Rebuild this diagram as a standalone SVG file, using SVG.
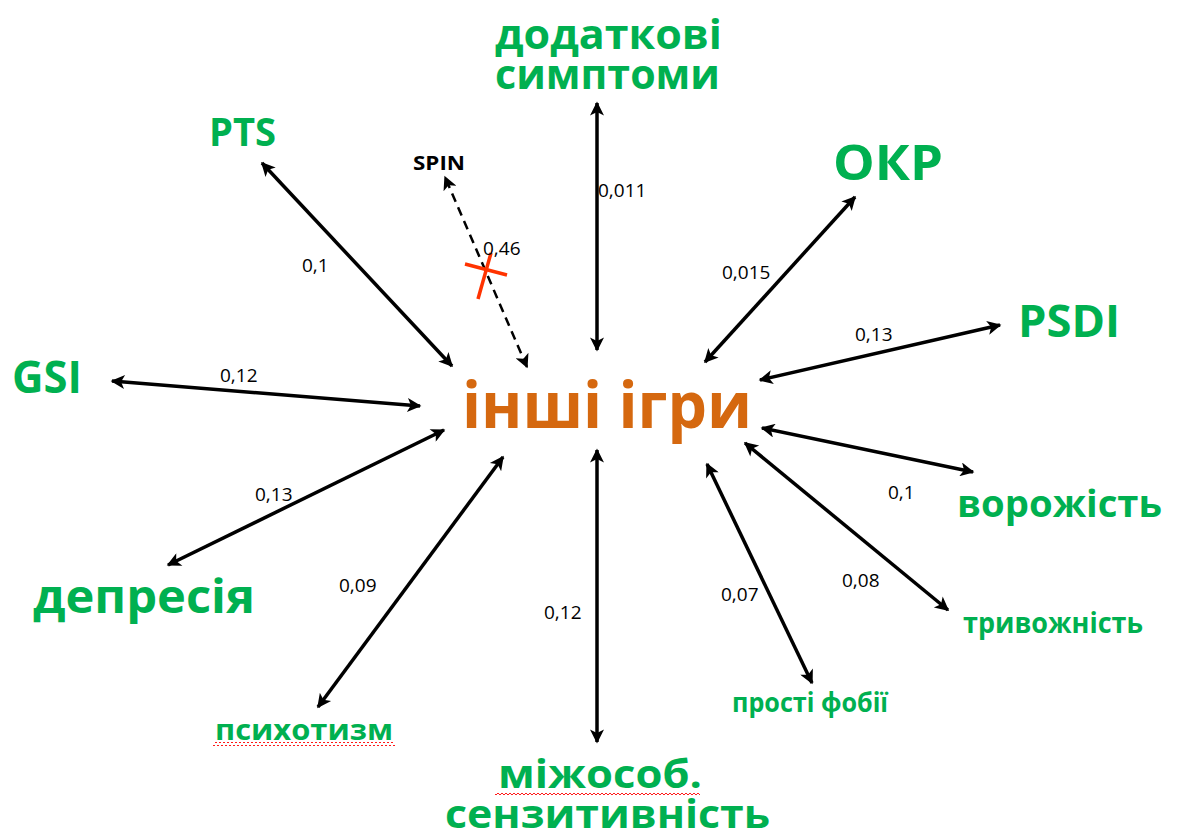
<svg xmlns="http://www.w3.org/2000/svg" width="1179" height="836" viewBox="0 0 1179 836">
<style>
.lbl{font-family:"Open Sans","Noto Sans","DejaVu Sans",sans-serif;font-weight:700;fill:#00B050}
.num{font-family:"Open Sans","Noto Sans","DejaVu Sans",sans-serif;font-size:19px;fill:#000}
.ar{stroke:#000;stroke-width:3.5;fill:none;marker-start:url(#ah);marker-end:url(#ah)}
.ard{stroke:#000;stroke-width:2.5;fill:none;stroke-dasharray:9 6;marker-start:url(#ah);marker-end:url(#ah)}
</style>
<defs>
<marker id="ah" viewBox="0 0 10 10" refX="9" refY="5" markerUnits="userSpaceOnUse" markerWidth="18" markerHeight="14" orient="auto-start-reverse">
<path d="M0,0 L10,5 L0,10 L2.5,5 z" fill="#000"/>
</marker>
<pattern id="wave" x="0" y="0" width="4" height="4" patternUnits="userSpaceOnUse">
<polyline points="0,3 2,1 4,3" fill="none" stroke="#FF0000" stroke-width="0.9"/>
</pattern>
</defs>
<rect width="1179" height="836" fill="#fff"/>

<g id="connectors">
<path class="ar" d="M597,350 L597,103"/>
<path class="ar" d="M452,366 L262,163"/>
<path class="ard" d="M527,367 L445,177"/>
<path class="ar" d="M705,362 L855,197"/>
<path class="ar" d="M760,380 L1000,325"/>
<path class="ar" d="M420,406 L112,381"/>
<path class="ar" d="M444,430 L168,565"/>
<path class="ar" d="M503,457 L318,707"/>
<path class="ar" d="M597,450 L597,742"/>
<path class="ar" d="M707,464 L812,683"/>
<path class="ar" d="M745,443 L948,610"/>
<path class="ar" d="M762,428 L973,472"/>
<g id="cross" stroke="#FF3300" stroke-width="3.5">
<line x1="465" y1="264" x2="507" y2="275"/>
<line x1="491" y1="253" x2="478" y2="299"/>
</g>
<g id="weights">
<text class="num" x="598" y="197">0,011</text>
<text class="num" x="302" y="272">0,1</text>
<text class="num" x="483" y="255">0,46</text>
<text class="num" x="722" y="279">0,015</text>
<text class="num" x="855" y="341">0,13</text>
<text class="num" x="220" y="382">0,12</text>
<text class="num" x="255" y="501">0,13</text>
<text class="num" x="888" y="499">0,1</text>
<text class="num" x="339" y="592">0,09</text>
<text class="num" x="544" y="619">0,12</text>
<text class="num" x="721" y="601">0,07</text>
<text class="num" x="842" y="587">0,08</text>
</g>
</g>

<g id="center">
<text x="462" y="428" font-family="'Open Sans','Noto Sans',sans-serif" font-weight="700" font-size="65" fill="#D5680F" textLength="290" lengthAdjust="spacingAndGlyphs">інші ігри</text>
</g>
<g id="dodatkovi">
<text class="lbl" x="495" y="49" font-size="41" textLength="227" lengthAdjust="spacingAndGlyphs">додаткові</text>
<text class="lbl" x="495" y="89" font-size="41" textLength="225" lengthAdjust="spacingAndGlyphs">симптоми</text>
</g>
<g id="pts"><text class="lbl" x="209" y="146" font-size="40" textLength="67" lengthAdjust="spacingAndGlyphs">PTS</text></g>
<g id="spin"><text x="413" y="170" font-family="'Open Sans','Noto Sans',sans-serif" font-weight="700" font-size="20" fill="#000" textLength="52" lengthAdjust="spacingAndGlyphs">SPIN</text></g>
<g id="okr"><text class="lbl" x="833" y="180" font-size="49" textLength="110" lengthAdjust="spacingAndGlyphs">ОКР</text></g>
<g id="psdi"><text class="lbl" x="1018" y="337" font-size="45" textLength="102" lengthAdjust="spacingAndGlyphs">PSDI</text></g>
<g id="gsi"><text class="lbl" x="12" y="393" font-size="44" textLength="70" lengthAdjust="spacingAndGlyphs">GSI</text></g>
<g id="vorozhist"><text class="lbl" x="957" y="517" font-size="37" textLength="205" lengthAdjust="spacingAndGlyphs">ворожість</text></g>
<g id="tryvozhnist"><text class="lbl" x="963" y="633" font-size="28" textLength="180" lengthAdjust="spacingAndGlyphs">тривожність</text></g>
<g id="fobii"><text class="lbl" x="732" y="712" font-size="26" textLength="156" lengthAdjust="spacingAndGlyphs">прості фобії</text></g>
<g id="mizhosob">
<text class="lbl" x="498" y="788" font-size="40" textLength="204" lengthAdjust="spacingAndGlyphs">міжособ.</text>
<rect x="495" y="793" width="205" height="4" fill="url(#wave)"/>
<text class="lbl" x="445" y="828" font-size="40" textLength="325" lengthAdjust="spacingAndGlyphs">сензитивність</text>
</g>
<g id="psykhotyzm">
<text class="lbl" x="215" y="740" font-size="28" textLength="178" lengthAdjust="spacingAndGlyphs">психотизм</text>
<rect x="213" y="742" width="182" height="4" fill="url(#wave)"/>
</g>
<g id="depresiia"><text class="lbl" x="33" y="613" font-size="47" textLength="222" lengthAdjust="spacingAndGlyphs">депресія</text></g>
</svg>
